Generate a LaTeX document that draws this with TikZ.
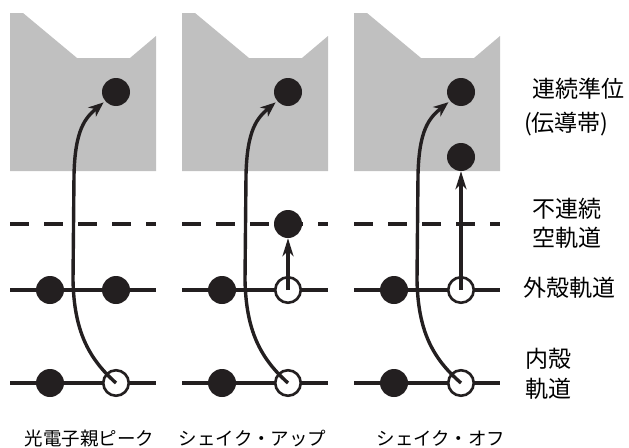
\documentclass[tikz,border=0pt]{standalone}
\usepackage{fontspec}
\newfontfamily\jp{Noto Sans CJK JP}
\usetikzlibrary{arrows.meta}
\definecolor{ink}{RGB}{35,31,32}
\definecolor{band}{RGB}{192,192,192}
\begin{document}
\begin{tikzpicture}[x={(1pt,0)}, y={(0,-1pt)},
  level/.style={ink, line width=3.2pt},
  gap/.style={ink, line width=4.2pt, dash pattern=on 19pt off 15pt},
  full/.style={circle, fill=ink, minimum size=28pt, inner sep=0pt},
  hole/.style={circle, draw=ink, line width=2.6pt, fill=white, minimum size=25.5pt, inner sep=0pt},
  jump/.style={ink, line width=3.4pt, -{Stealth[length=15pt,width=12pt,inset=4.5pt]}, shorten >=2pt},
  lift/.style={ink, line width=4.4pt, -{Stealth[length=18pt,width=11pt,inset=5.5pt]}},
  side/.style={font=\jp\fontsize{23pt}{23pt}\selectfont, anchor=base west, inner sep=0pt},
  caption/.style={font=\jp\fontsize{18.5pt}{18.5pt}\selectfont, anchor=base, inner sep=0pt}]
\path[use as bounding box] (0,0) rectangle (629,447);

% band outline shared by the three panels
\def\bandshape{(10,13) -- (23,13) -- (77,58) -- (130,58) -- (156,36) -- (156,171) -- (10,171) -- cycle}

% photoelectron main peak
\begin{scope}
  \fill[band] \bandshape;
  \draw[gap] (10,224) -- (156,224);
  \draw[level] (10,290) -- (156,290);
  \draw[level] (10,383) -- (156,383);
  \node[full] (a-c) at (116,92) {};
  \node[full] (a-o1) at (50,290) {};
  \node[full] (a-o2) at (116,290) {};
  \node[full] (a-i1) at (50,383) {};
  \node[hole] (a-i2) at (116,383) {};
  \draw[jump] (a-i2.center) .. controls (88,358) and (74,330) .. (73,280) -- (74,175)
     .. controls (75,130) and (85,118) .. (a-c);
\end{scope}

% shake-up
\begin{scope}[xshift=172pt]
  \fill[band] \bandshape;
  \draw[gap] (10,224) -- (156,224);
  \draw[level] (10,290) -- (156,290);
  \draw[level] (10,383) -- (156,383);
  \node[full] (b-c) at (116,92) {};
  \node[full] (b-d) at (116,224) {};
  \node[full] (b-o1) at (50,290) {};
  \node[hole] (b-o2) at (116,290) {};
  \node[full] (b-i1) at (50,383) {};
  \node[hole] (b-i2) at (116,383) {};
  \draw[lift] (b-o2.center) -- (b-d);
  \draw[jump] (b-i2.center) .. controls (88,358) and (74,330) .. (73,280) -- (74,175)
     .. controls (75,130) and (85,118) .. (b-c);
\end{scope}

% shake-off
\begin{scope}[xshift=344pt]
  \fill[band] \bandshape;
  \draw[gap] (10,224) -- (156,224);
  \draw[level] (10,290) -- (156,290);
  \draw[level] (10,383) -- (156,383);
  \node[full] (c-c) at (117,92) {};
  \node[full] (c-d) at (117,157) {};
  \node[full] (c-o1) at (50,290) {};
  \node[hole] (c-o2) at (117,290) {};
  \node[full] (c-i1) at (50,383) {};
  \node[hole] (c-i2) at (117,383) {};
  \draw[lift] (c-o2.center) -- (c-d);
  \draw[jump] (c-i2.center) .. controls (88,358) and (74,330) .. (73,280) -- (74,175)
     .. controls (75,130) and (85,118) .. (c-c);
\end{scope}

% level names
\node[side] (l1) at (532,97) {連続準位};
\node[side] (l2) at (524,131) {(伝導帯)};
\node[side] (l3) at (532,217) {不連続};
\node[side] (l4) at (532,246) {空軌道};
\node[side] (l5) at (523,296) {外殻軌道};
\node[side] (l6) at (525,367) {内殻};
\node[side] (l7) at (525,397) {軌道};

% process names
\node[caption] (t1) at (89.5,445) {光電子親ピーク};
\node[caption] (t2) at (252.5,445) {シェイク・アップ};
\node[caption] (t3) at (441,445) {シェイク・オフ};
\end{tikzpicture}
\end{document}
